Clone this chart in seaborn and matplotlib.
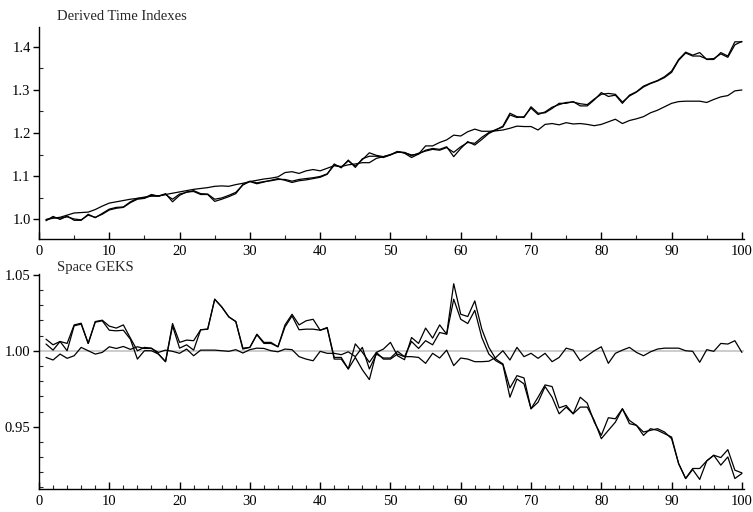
import numpy as np
import pandas as pd
import matplotlib
matplotlib.use("Agg")
import matplotlib.pyplot as plt
from matplotlib.ticker import MultipleLocator
import seaborn as sns

t = list(range(1, 101))

time_a = [0.996, 1.006, 0.999, 1.007, 0.997, 0.997, 1.011, 1.003, 1.013, 1.023,
          1.027, 1.028, 1.040, 1.048, 1.049, 1.057, 1.053, 1.059, 1.040, 1.055,
          1.063, 1.064, 1.057, 1.057, 1.041, 1.046, 1.052, 1.059, 1.080, 1.087,
          1.082, 1.086, 1.090, 1.094, 1.090, 1.085, 1.089, 1.091, 1.094, 1.097,
          1.104, 1.128, 1.119, 1.137, 1.120, 1.140, 1.146, 1.146, 1.143, 1.149,
          1.157, 1.153, 1.143, 1.151, 1.160, 1.164, 1.162, 1.168, 1.145, 1.164,
          1.180, 1.172, 1.185, 1.199, 1.207, 1.216, 1.246, 1.238, 1.236, 1.261,
          1.246, 1.247, 1.257, 1.269, 1.269, 1.273, 1.263, 1.263, 1.277, 1.294,
          1.285, 1.288, 1.269, 1.288, 1.296, 1.309, 1.316, 1.322, 1.331, 1.344,
          1.371, 1.388, 1.381, 1.387, 1.371, 1.371, 1.387, 1.379, 1.412, 1.412]

time_b = [0.999, 1.003, 1.002, 1.005, 1.000, 0.998, 1.009, 1.004, 1.011, 1.021,
          1.025, 1.027, 1.038, 1.046, 1.048, 1.055, 1.054, 1.057, 1.046, 1.058,
          1.062, 1.066, 1.059, 1.058, 1.046, 1.049, 1.055, 1.062, 1.079, 1.088,
          1.084, 1.087, 1.089, 1.092, 1.092, 1.088, 1.092, 1.094, 1.096, 1.099,
          1.105, 1.125, 1.121, 1.135, 1.123, 1.138, 1.154, 1.148, 1.145, 1.150,
          1.155, 1.155, 1.147, 1.153, 1.158, 1.162, 1.160, 1.166, 1.155, 1.168,
          1.178, 1.176, 1.190, 1.201, 1.208, 1.214, 1.242, 1.236, 1.238, 1.258,
          1.243, 1.249, 1.260, 1.266, 1.271, 1.272, 1.268, 1.266, 1.279, 1.290,
          1.292, 1.290, 1.272, 1.286, 1.295, 1.307, 1.315, 1.321, 1.329, 1.341,
          1.369, 1.386, 1.379, 1.379, 1.372, 1.373, 1.384, 1.376, 1.405, 1.413]

time_c = [0.998, 1.002, 1.004, 1.009, 1.014, 1.015, 1.016, 1.022, 1.030, 1.037,
          1.040, 1.043, 1.046, 1.048, 1.051, 1.053, 1.053, 1.057, 1.060, 1.063,
          1.066, 1.069, 1.071, 1.073, 1.076, 1.077, 1.076, 1.080, 1.083, 1.087,
          1.090, 1.093, 1.095, 1.098, 1.108, 1.110, 1.106, 1.112, 1.115, 1.112,
          1.118, 1.124, 1.122, 1.126, 1.128, 1.131, 1.131, 1.141, 1.145, 1.149,
          1.157, 1.154, 1.149, 1.151, 1.170, 1.170, 1.178, 1.184, 1.195, 1.193,
          1.203, 1.209, 1.204, 1.204, 1.205, 1.207, 1.211, 1.216, 1.215, 1.215,
          1.207, 1.220, 1.222, 1.219, 1.224, 1.221, 1.222, 1.220, 1.217, 1.220,
          1.226, 1.232, 1.222, 1.229, 1.233, 1.238, 1.247, 1.253, 1.261, 1.269,
          1.273, 1.274, 1.274, 1.274, 1.271, 1.278, 1.284, 1.287, 1.298, 1.300]

geks_d = [1.0076, 1.0039, 1.0061, 1.0048, 1.0170, 1.0181, 1.0048, 1.0192, 1.0201, 1.0162,
          1.0149, 1.0170, 1.0083, 1.0000, 1.0022, 1.0017, 0.9978, 0.9928, 1.0179, 1.0055,
          1.0070, 1.0066, 1.0138, 1.0142, 1.0339, 1.0288, 1.0223, 1.0192, 1.0011, 1.0022,
          1.0109, 1.0055, 1.0055, 1.0026, 1.0170, 1.0240, 1.0170, 1.0197, 1.0207, 1.0135,
          1.0153, 0.9956, 0.9956, 0.9880, 0.9956, 0.9875, 0.9810, 0.9989, 1.0011, 1.0055,
          0.9967, 0.9941, 1.0087, 1.0048, 1.0149, 1.0083, 1.0170, 1.0109, 1.0441, 1.0240,
          1.0225, 1.0328, 1.0142, 1.0022, 0.9945, 0.9913, 0.9755, 0.9836, 0.9821, 0.9618,
          0.9694, 0.9775, 0.9764, 0.9624, 0.9640, 0.9585, 0.9694, 0.9655, 0.9530, 0.9443,
          0.9559, 0.9552, 0.9618, 0.9541, 0.9509, 0.9465, 0.9476, 0.9487, 0.9465, 0.9421,
          0.9257, 0.9159, 0.9225, 0.9225, 0.9275, 0.9312, 0.9297, 0.9349, 0.9214, 0.9196]

geks_e = [1.0044, 1.0004, 1.0061, 1.0000, 1.0164, 1.0175, 1.0048, 1.0188, 1.0197, 1.0135,
          1.0131, 1.0135, 1.0076, 0.9945, 1.0000, 1.0000, 0.9978, 0.9928, 1.0164, 1.0017,
          1.0039, 1.0004, 1.0138, 1.0142, 1.0339, 1.0288, 1.0223, 1.0192, 1.0017, 1.0022,
          1.0105, 1.0048, 1.0048, 1.0026, 1.0157, 1.0229, 1.0138, 1.0142, 1.0142, 1.0135,
          1.0149, 0.9945, 0.9945, 0.9880, 1.0045, 0.9990, 0.9924, 0.9989, 0.9945, 0.9945,
          0.9978, 0.9961, 1.0061, 1.0015, 1.0066, 1.0039, 1.0120, 1.0109, 1.0339, 1.0207,
          1.0179, 1.0266, 1.0087, 0.9978, 0.9934, 0.9908, 0.9694, 0.9814, 0.9782, 0.9618,
          0.9661, 0.9764, 0.9694, 0.9585, 0.9629, 0.9585, 0.9629, 0.9629, 0.9541, 0.9421,
          0.9476, 0.9530, 0.9618, 0.9520, 0.9509, 0.9443, 0.9487, 0.9476, 0.9454, 0.9432,
          0.9257, 0.9159, 0.9218, 0.9153, 0.9275, 0.9312, 0.9247, 0.9301, 0.9159, 0.9192]

geks_f = [0.9956, 0.9939, 0.9978, 0.9950, 0.9967, 1.0022, 1.0000, 0.9978, 0.9989, 1.0026,
          1.0015, 1.0028, 1.0009, 1.0026, 1.0015, 1.0015, 0.9989, 1.0004, 0.9996, 0.9983,
          1.0011, 0.9967, 1.0004, 1.0004, 1.0004, 1.0000, 0.9996, 1.0007, 0.9985, 1.0007,
          1.0017, 1.0015, 1.0000, 0.9993, 1.0011, 1.0007, 0.9961, 0.9945, 0.9934, 0.9996,
          0.9983, 0.9983, 0.9974, 0.9993, 0.9961, 1.0022, 0.9880, 0.9978, 0.9952, 0.9952,
          0.9996, 0.9961, 0.9961, 0.9956, 0.9917, 0.9983, 0.9952, 1.0004, 0.9902, 0.9952,
          0.9945, 0.9928, 0.9928, 0.9931, 0.9956, 1.0000, 0.9939, 1.0022, 0.9961, 0.9983,
          0.9950, 0.9983, 0.9928, 0.9956, 1.0017, 1.0004, 0.9934, 0.9967, 1.0000, 1.0026,
          0.9917, 0.9983, 1.0004, 1.0022, 0.9989, 0.9967, 0.9993, 1.0011, 1.0017, 1.0017,
          1.0017, 1.0000, 0.9996, 0.9924, 1.0007, 0.9996, 1.0048, 1.0044, 1.0066, 0.9989]

top_title = "Derived Time Indexes"
bottom_title = "Space GEKS"

sns.set_style("ticks")
plt.rcParams['font.family'] = ['Liberation Serif', 'DejaVu Serif']
plt.rcParams['font.size'] = 10.5

fig = plt.figure(figsize=(7.53, 5.12), dpi=100)
ax1 = fig.add_axes([39/753, 1 - 239/512, 705/753, 212/512])
ax2 = fig.add_axes([39/753, 1 - 489/512, 705/753, 215/512])

for s in [time_a, time_b, time_c]:
    sns.lineplot(x=t, y=s, ax=ax1, color='black', linewidth=0.9)

ax2.axhline(1.0, color='#c8c8c8', linewidth=1.3, zorder=1)
for s in [geks_d, geks_e, geks_f]:
    sns.lineplot(x=t, y=s, ax=ax2, color='black', linewidth=0.9)

ax1.set_xlim(0, 100.3)
ax1.set_ylim(0.9535, 1.4465)
ax2.set_xlim(0, 100.3)
ax2.set_ylim(0.909, 1.0505)

ax1.xaxis.set_major_locator(MultipleLocator(10))
ax1.xaxis.set_minor_locator(MultipleLocator(5))
ax1.yaxis.set_major_locator(MultipleLocator(0.1))
ax1.yaxis.set_minor_locator(MultipleLocator(0.05))
ax1.yaxis.set_major_formatter(matplotlib.ticker.FormatStrFormatter('%.1f'))

ax2.xaxis.set_major_locator(MultipleLocator(10))
ax2.xaxis.set_minor_locator(MultipleLocator(2))
ax2.yaxis.set_major_locator(MultipleLocator(0.05))
ax2.yaxis.set_minor_locator(MultipleLocator(0.01))
ax2.yaxis.set_major_formatter(matplotlib.ticker.FormatStrFormatter('%.2f'))

for ax in (ax1, ax2):
    sns.despine(ax=ax)
    for sp in ('left', 'bottom'):
        ax.spines[sp].set_linewidth(1.0)
        ax.spines[sp].set_color('black')
    ax.tick_params(axis='x', which='major', direction='in', length=5, width=1,
                   labelsize=10.5, pad=4, colors='black')
    ax.tick_params(axis='x', which='minor', direction='in', length=3, width=0.8)
    ax.tick_params(axis='y', which='major', direction='out', length=4, width=1,
                   labelsize=10.5, pad=2, colors='black')
    ax.tick_params(axis='y', which='minor', direction='in', length=3, width=0.8)
    ax.set_xlabel('')
    ax.set_ylabel('')

fig.text(57/753, 1 - 17/512, top_title, ha='left', va='center', fontsize=10.5)
fig.text(57/753, 1 - 267/512, bottom_title, ha='left', va='center', fontsize=10.5)

fig.savefig('out.png', dpi=100)
